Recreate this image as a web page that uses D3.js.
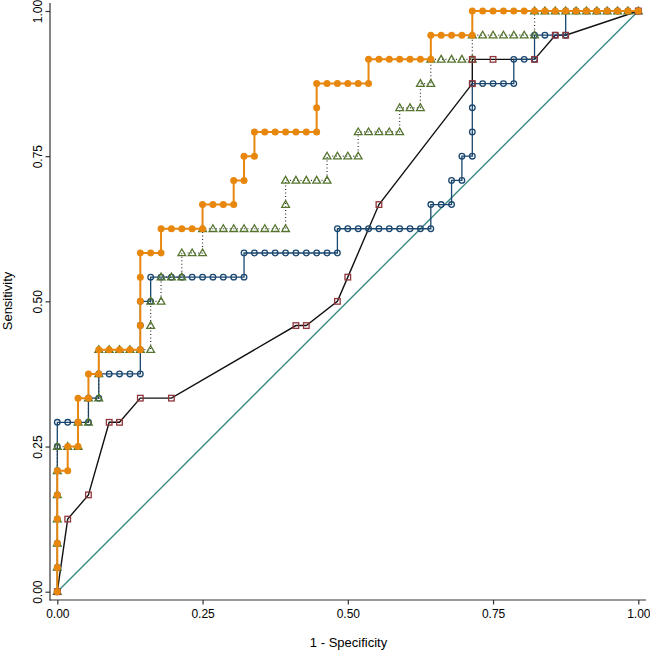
<!DOCTYPE html>
<html><head><meta charset="utf-8">
<script src="https://cdn.jsdelivr.net/npm/d3@7"></script>
<style>body{margin:0;background:#fff;} text{font-family:"Liberation Sans",Arial,Helvetica,sans-serif;}</style>
</head><body><svg id="chart" width="650" height="650"></svg>
<script>
// Tick values for both axes
const tickValues = [0, 0.25, 0.5, 0.75, 1];

// Curve A (orange, filled circles): [1 - specificity, sensitivity]
const curveOrange = [[0,0],[0,.0417],[0,.0833],[0,.125],[0,.1667],[0,.2083],[.0179,.2083],[.0179,.25],[.0357,.25],[.0357,.2917],[.0357,.3333],[.0536,.3333],[.0536,.375],[.0714,.375],[.0714,.4167],[.0893,.4167],[.1071,.4167],[.125,.4167],[.1429,.4167],[.1429,.4583],[.1429,.5],[.1429,.5417],[.1429,.5833],[.1607,.5833],[.1786,.5833],[.1786,.625],[.1964,.625],[.2143,.625],[.2321,.625],[.25,.625],[.25,.6667],[.2679,.6667],[.2857,.6667],[.3036,.6667],[.3036,.7083],[.3214,.7083],[.3214,.75],[.3393,.75],[.3393,.7917],[.3571,.7917],[.375,.7917],[.3929,.7917],[.4107,.7917],[.4286,.7917],[.4464,.7917],[.4464,.8333],[.4464,.875],[.4643,.875],[.4821,.875],[.5,.875],[.5179,.875],[.5357,.875],[.5357,.9167],[.5536,.9167],[.5714,.9167],[.5893,.9167],[.6071,.9167],[.625,.9167],[.6429,.9167],[.6429,.9583],[.6607,.9583],[.6786,.9583],[.6964,.9583],[.7143,.9583],[.7143,1],[.7321,1],[.75,1],[.7679,1],[.7857,1],[.8036,1],[.8214,1],[.8393,1],[.8571,1],[.875,1],[.8929,1],[.9107,1],[.9286,1],[.9464,1],[.9643,1],[.9821,1],[1,1]];

// Curve B (navy, hollow circles)
const curveNavy = [[0,0],[0,.0417],[0,.0833],[0,.125],[0,.1667],[0,.2083],[0,.25],[0,.2917],[.0179,.2917],[.0357,.2917],[.0536,.2917],[.0536,.3333],[.0714,.3333],[.0714,.375],[.0893,.375],[.1071,.375],[.125,.375],[.1429,.375],[.1429,.4167],[.1429,.4583],[.1429,.5],[.1607,.5],[.1607,.5417],[.1786,.5417],[.1964,.5417],[.2143,.5417],[.2321,.5417],[.25,.5417],[.2679,.5417],[.2857,.5417],[.3036,.5417],[.3214,.5417],[.3214,.5833],[.3393,.5833],[.3571,.5833],[.375,.5833],[.3929,.5833],[.4107,.5833],[.4286,.5833],[.4464,.5833],[.4643,.5833],[.4821,.5833],[.4821,.625],[.5,.625],[.5179,.625],[.5357,.625],[.5536,.625],[.5714,.625],[.5893,.625],[.6071,.625],[.625,.625],[.6429,.625],[.6429,.6667],[.6607,.6667],[.6786,.6667],[.6786,.7083],[.6964,.7083],[.6964,.75],[.7143,.75],[.7143,.7917],[.7143,.8333],[.7143,.875],[.7321,.875],[.75,.875],[.7679,.875],[.7857,.875],[.7857,.9167],[.8036,.9167],[.8214,.9167],[.8214,.9583],[.8393,.9583],[.8571,.9583],[.875,.9583],[.875,1],[.8929,1],[.9107,1],[.9286,1],[.9464,1],[.9643,1],[.9821,1],[1,1]];

// Curve C (green, hollow triangles, dotted connector)
const curveGreen = [[0,0],[0,.0417],[0,.0833],[0,.125],[0,.1667],[0,.2083],[0,.25],[.0179,.25],[.0357,.25],[.0357,.2917],[.0536,.2917],[.0536,.3333],[.0714,.3333],[.0714,.375],[.0714,.4167],[.0893,.4167],[.1071,.4167],[.125,.4167],[.1429,.4167],[.1607,.4167],[.1607,.4583],[.1607,.5],[.1786,.5],[.1786,.5417],[.1964,.5417],[.2143,.5417],[.2143,.5833],[.2321,.5833],[.25,.5833],[.25,.625],[.2679,.625],[.2857,.625],[.3036,.625],[.3214,.625],[.3393,.625],[.3571,.625],[.375,.625],[.3929,.625],[.3929,.6667],[.3929,.7083],[.4107,.7083],[.4286,.7083],[.4464,.7083],[.4643,.7083],[.4643,.75],[.4821,.75],[.5,.75],[.5179,.75],[.5179,.7917],[.5357,.7917],[.5536,.7917],[.5714,.7917],[.5893,.7917],[.5893,.8333],[.6071,.8333],[.625,.8333],[.625,.875],[.6429,.875],[.6429,.9167],[.6607,.9167],[.6786,.9167],[.6964,.9167],[.7143,.9167],[.7143,.9583],[.7321,.9583],[.75,.9583],[.7679,.9583],[.7857,.9583],[.8036,.9583],[.8214,.9583],[.8214,1],[.8393,1],[.8571,1],[.875,1],[.8929,1],[.9107,1],[.9286,1],[.9464,1],[.9643,1],[.9821,1],[1,1]];

// Curve D (maroon hollow squares, black connector)
const curveMaroon = [[0,0],[.0179,.125],[.0536,.1667],[.0893,.2917],[.1071,.2917],[.1429,.3333],[.1964,.3333],[.4107,.4583],[.4286,.4583],[.4821,.5],[.5,.5417],[.5536,.6667],[.7143,.875],[.7143,.9167],[.75,.9167],[.8214,.9167],[.8571,.9583],[.875,.9583],[1,1]];

// Reference (chance) line
const referenceLine = [[0,0],[1,1]];

const svg = d3.select("#chart");
svg.append("rect").attr("width",650).attr("height",650).attr("fill","#fff");

const x = d3.scaleLinear().domain([0,1]).range([57.3,638.3]);
const y = d3.scaleLinear().domain([0,1]).range([591.7,11]);
const line = d3.line().x(d=>x(d[0])).y(d=>y(d[1]));

// axes
const axisCol = "#333";
const gy = svg.append("g").attr("transform","translate(50,0)")
  .call(d3.axisLeft(y).tickValues(tickValues).tickSize(4.5).tickFormat(d3.format(".2f")));
gy.select(".domain").remove();
gy.selectAll(".tick line").attr("stroke",axisCol).attr("stroke-width",1.2);
gy.selectAll(".tick text").attr("transform","rotate(-90)").attr("x",0).attr("y",-8).attr("dy",0)
  .attr("text-anchor","middle").attr("font-size",12).attr("fill","#000")
  .style("font-family",'"Liberation Sans",Arial,sans-serif');
svg.append("line").attr("x1",50).attr("x2",50).attr("y1",3).attr("y2",600.6).attr("stroke",axisCol).attr("stroke-width",1.2);

const gx = svg.append("g").attr("transform","translate(0,600)")
  .call(d3.axisBottom(x).tickValues(tickValues).tickSize(4.5).tickPadding(4.5).tickFormat(d3.format(".2f")));
gx.select(".domain").remove();
gx.selectAll(".tick line").attr("stroke",axisCol).attr("stroke-width",1.2);
gx.selectAll(".tick text").attr("font-size",12).attr("fill","#000")
  .style("font-family",'"Liberation Sans",Arial,sans-serif');
svg.append("line").attr("x1",49.4).attr("x2",646).attr("y1",600).attr("y2",600).attr("stroke",axisCol).attr("stroke-width",1.2);

svg.append("text").attr("transform","translate(12,301) rotate(-90)").attr("text-anchor","middle")
  .attr("font-size",13).attr("fill","#000").text("Sensitivity");
svg.append("text").attr("x",348.5).attr("y",647).attr("text-anchor","middle")
  .attr("font-size",13).attr("fill","#000").text("1 - Specificity");

// reference line
svg.append("path").datum(referenceLine).attr("d",line).attr("fill","none").attr("stroke","#3b8984").attr("stroke-width",1.4);

// maroon / black
svg.append("path").datum(curveMaroon).attr("d",line).attr("fill","none").attr("stroke","#111").attr("stroke-width",1.4);

// navy
svg.append("path").datum(curveNavy).attr("d",line).attr("fill","none").attr("stroke","#1a476f").attr("stroke-width",1.3);
svg.append("g").selectAll("circle").data(curveNavy).join("circle")
  .attr("cx",d=>x(d[0])).attr("cy",d=>y(d[1])).attr("r",2.8)
  .attr("fill","none").attr("stroke","#1a476f").attr("stroke-width",1.3);

// green
svg.append("path").datum(curveGreen).attr("d",line).attr("fill","none").attr("stroke","#333")
  .attr("stroke-width",1.2).attr("stroke-dasharray","1,2.5");
const tri = d3.symbol().type(d3.symbolTriangle).size(26);
svg.append("g").selectAll("path").data(curveGreen).join("path")
  .attr("d",tri).attr("transform",d=>`translate(${x(d[0])},${y(d[1])+0.5})`)
  .attr("fill","none").attr("stroke","#55752f").attr("stroke-width",1.3);

// maroon squares
svg.append("g").selectAll("rect").data(curveMaroon).join("rect")
  .attr("x",d=>x(d[0])-2.8).attr("y",d=>y(d[1])-2.8).attr("width",5.6).attr("height",5.6)
  .attr("fill","none").attr("stroke","#90353b").attr("stroke-width",1.3);

// orange
svg.append("path").datum(curveOrange).attr("d",line).attr("fill","none").attr("stroke","#e8870e").attr("stroke-width",2);
svg.append("g").selectAll("circle").data(curveOrange).join("circle")
  .attr("cx",d=>x(d[0])).attr("cy",d=>y(d[1])).attr("r",3.5).attr("fill","#e8870e");
</script></body></html>
